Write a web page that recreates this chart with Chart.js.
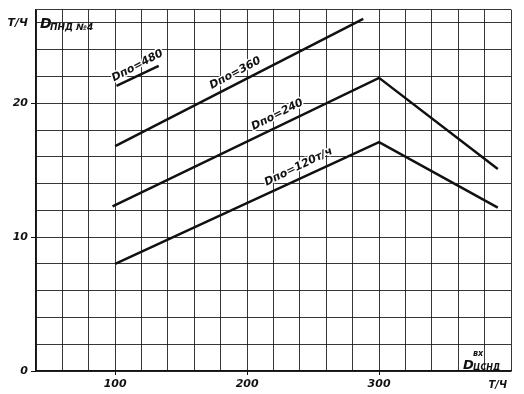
<!DOCTYPE html>
<html>
<head>
<meta charset="utf-8">
<script src="https://cdn.jsdelivr.net/npm/chart.js@4"></script>
<style>
  html, body { margin: 0; padding: 0; background: #fff; }
  #wrap { width: 524px; height: 394px; }
</style>
</head>
<body>
<div id="wrap"><canvas id="myChart" width="524" height="394"></canvas></div>
<script>
// Flow through the main condensate pump (T/h), per curve
const xDpo120 = [100, 300, 390];
const yDpo120 = [8.0, 17.1, 12.2];
const xDpo240 = [98, 300, 390];
const yDpo240 = [12.3, 21.9, 15.1];
const xDpo360 = [100, 288];
const yDpo360 = [16.8, 26.3];
const xDpo480 = [101, 133];
const yDpo480 = [21.3, 22.8];

const xLabeled = [100, 200, 300];
const yLabeled = [0, 10, 20];

const curveNames = ['Dпо=120т/ч', 'Dпо=240', 'Dпо=360', 'Dпо=480'];

const toPoints = (xs, ys) => xs.map((x, i) => ({ x: x, y: ys[i] }));

const handFont = (size, weight) => `italic ${weight || 'bold'} ${size}px "DejaVu Sans"`;

// where each curve's handwritten label sits (data coords) and its tilt
const curveLabelSpots = [
    { x: 239, y: 15.25, angle: -26 },
    { x: 223, y: 19.15, angle: -27 },
    { x: 191, y: 22.25, angle: -28 },
    { x: 117, y: 22.8, angle: -28 }
];

const notesPlugin = {
    id: 'notes',
    afterDraw(chart) {
        const { ctx, scales: { x, y } } = chart;
        ctx.save();
        ctx.fillStyle = '#111';

        // curve labels (white halo, the grid was erased under the writing)
        curveNames.forEach((name, i) => {
            const s = curveLabelSpots[i];
            ctx.save();
            ctx.translate(x.getPixelForValue(s.x), y.getPixelForValue(s.y));
            ctx.rotate(s.angle * Math.PI / 180);
            ctx.font = handFont(11);
            ctx.textAlign = 'center';
            ctx.textBaseline = 'middle';
            ctx.strokeStyle = '#fff';
            ctx.lineWidth = 3;
            ctx.lineJoin = 'round';
            ctx.strokeText(name, 0, 0);
            ctx.fillText(name, 0, 0);
            ctx.restore();
        });

        // y axis title, top left inside the grid
        ctx.textAlign = 'left';
        ctx.textBaseline = 'alphabetic';
        ctx.font = handFont(14);
        ctx.fillText('D', 40, 28);
        ctx.font = handFont(9);
        ctx.fillText('ПНД №4', 50, 30);

        // x axis title, bottom right inside the grid
        ctx.font = handFont(13);
        ctx.fillText('D', 463, 369);
        ctx.font = handFont(8);
        ctx.fillText('вх', 473, 356);
        ctx.fillText('ЦСНД', 473, 370);

        // x unit in the tick row
        ctx.font = handFont(10);
        ctx.textAlign = 'center';
        ctx.textBaseline = 'middle';
        ctx.fillText('Т/Ч', x.getPixelForValue(390), 385);
        ctx.restore();
    }
};

const lineStyle = { borderColor: '#111', borderWidth: 2.5, pointRadius: 0, showLine: true, tension: 0, fill: false };

new Chart(document.getElementById('myChart').getContext('2d'), {
    type: 'scatter',
    data: {
        datasets: [
            { label: curveNames[0], data: toPoints(xDpo120, yDpo120), ...lineStyle },
            { label: curveNames[1], data: toPoints(xDpo240, yDpo240), ...lineStyle },
            { label: curveNames[2], data: toPoints(xDpo360, yDpo360), ...lineStyle },
            { label: curveNames[3], data: toPoints(xDpo480, yDpo480), ...lineStyle }
        ]
    },
    options: {
        responsive: false,
        animation: false,
        layout: { padding: { top: 8, right: 13, left: 0, bottom: 0 } },
        plugins: { legend: { display: false }, tooltip: { enabled: false } },
        scales: {
            x: {
                type: 'linear',
                min: 40, max: 400,
                afterFit: (s) => { s.height = 23; },
                border: { color: '#111', width: 1.5 },
                grid: {
                    color: 'rgba(20,20,20,0.85)', lineWidth: 1, tickLength: 4,
                    tickColor: (c) => xLabeled.includes(c.tick && c.tick.value) ? '#111' : 'rgba(0,0,0,0)'
                },
                ticks: {
                    stepSize: 20, autoSkip: false, maxRotation: 0, padding: 3,
                    color: '#111', font: { family: 'DejaVu Sans', size: 11, style: 'italic', weight: 'bold' },
                    callback: (v) => xLabeled.includes(v) ? String(v) : ''
                }
            },
            y: {
                type: 'linear',
                min: 0, max: 27,
                afterFit: (s) => { s.width = 36; },
                border: { color: '#111', width: 1.5 },
                grid: {
                    color: 'rgba(20,20,20,0.85)', lineWidth: 1, tickLength: 5,
                    tickColor: (c) => yLabeled.includes(c.tick && c.tick.value) ? '#111' : 'rgba(0,0,0,0)'
                },
                ticks: {
                    stepSize: 2, autoSkip: false, padding: 3,
                    color: '#111', font: { family: 'DejaVu Sans', size: 11, style: 'italic', weight: 'bold' },
                    callback: (v) => yLabeled.includes(v) ? String(v) : (v === 26 ? 'Т/Ч' : '')
                }
            }
        }
    },
    plugins: [notesPlugin]
});
</script>
</body>
</html>
